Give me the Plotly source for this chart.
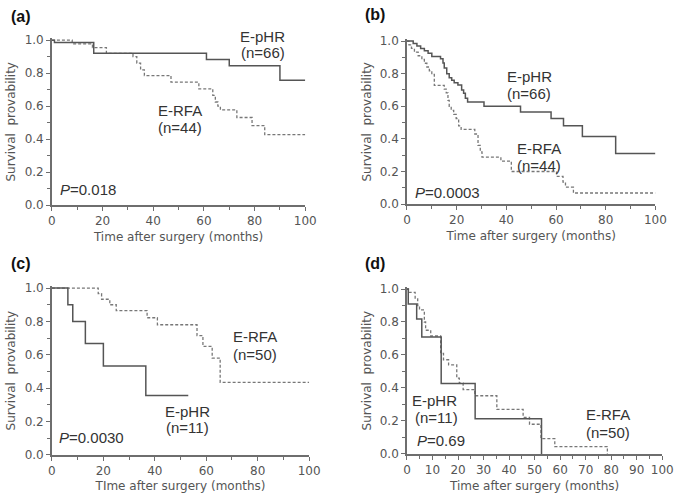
import plotly.graph_objects as go

# ---------------------------------------------------------------------------
# Kaplan-Meier step data (time in months, survival)
# ---------------------------------------------------------------------------

# (a)
a_phr_t = [0, 1, 16.5, 61, 70, 90, 100]
a_phr_s = [1.0, 0.985, 0.92, 0.882, 0.844, 0.757, 0.757]
a_rfa_t = [0, 8, 16, 21.5, 32, 33.5, 35, 36.5, 47, 58, 63.5, 64.5, 65.5, 66.5, 73, 79, 84, 100]
a_rfa_s = [1.0, 0.977, 0.955, 0.92, 0.9, 0.86, 0.82, 0.785, 0.745, 0.705, 0.665, 0.625, 0.6, 0.577,
           0.531, 0.482, 0.427, 0.427]

# (b)
b_phr_t = [0, 2.5, 4, 5.5, 7, 8.5, 10, 13.5, 14.5, 15, 16, 17, 18, 19, 20.5, 22, 22.8, 23.5, 24.4,
           31, 45.7, 58, 63, 70.6, 84, 100]
b_phr_s = [1.0, 0.985, 0.97, 0.955, 0.94, 0.925, 0.905, 0.892, 0.865, 0.835, 0.8, 0.775, 0.76, 0.745,
           0.73, 0.7, 0.68, 0.65, 0.627, 0.6, 0.565, 0.525, 0.48, 0.414, 0.31, 0.31]
b_rfa_t = [0, 0.8, 1.8, 3, 4.5, 6, 7, 8, 9, 10, 11, 15, 15.8, 16.5, 17, 17.8, 18.8, 19.8, 20.8, 21.8,
           27.3, 28.6, 29.5, 30.2, 37.8, 42, 60.2, 62.8, 63.8, 67, 100]
b_rfa_s = [1.0, 0.977, 0.955, 0.932, 0.91, 0.887, 0.864, 0.841, 0.818, 0.795, 0.728, 0.705, 0.682,
           0.636, 0.6, 0.575, 0.55, 0.525, 0.48, 0.458, 0.43, 0.36, 0.32, 0.288, 0.264, 0.2, 0.17,
           0.135, 0.104, 0.068, 0.068]

# (c)
c_phr_t = [0, 6.2, 8.1, 13, 20, 36.5, 53]
c_phr_s = [1.0, 0.9, 0.8, 0.667, 0.533, 0.356, 0.356]
c_rfa_t = [0, 18, 19.3, 22.5, 25, 37, 41, 56.4, 58.7, 62.3, 65.4, 100]
c_rfa_s = [1.0, 0.967, 0.933, 0.9, 0.865, 0.822, 0.78, 0.715, 0.65, 0.58, 0.435, 0.435]

# (d)
d_phr_t = [0, 0.5, 3.8, 5.8, 13.4, 26.7, 52.7]
d_phr_s = [1.0, 0.909, 0.818, 0.709, 0.427, 0.213, 0.0]
d_rfa_t = [0, 0.6, 3.2, 4.2, 4.9, 6.8, 7.3, 9.3, 13.2, 14.3, 16.3, 19.5, 20.5, 22, 26.6, 35.2,
           45.5, 48, 52.5, 57.9, 78.5]
d_rfa_s = [1.0, 0.98, 0.94, 0.9, 0.873, 0.8, 0.75, 0.715, 0.61, 0.571, 0.54, 0.46, 0.43, 0.39, 0.353,
           0.27, 0.222, 0.18, 0.093, 0.045, 0.0]

# ---------------------------------------------------------------------------
# Styling
# ---------------------------------------------------------------------------

W, H = 685, 500
AX_COL = "#6e6e6e"
TXT_COL = "#555555"
SOLID_COL = "#555555"
DASH_COL = "#777777"
TICK_FONT = dict(family="DejaVu Sans", size=12, color=TXT_COL)
TITLE_FONT = dict(family="DejaVu Sans", size=12, color=TXT_COL)
LABEL_FONT = dict(family="Liberation Sans, Arial", size=15, color="#333333")


def px_x(p):
    return p / W


def px_y(p):
    return 1 - p / H


def xaxis(domain, anchor, title, dtick, minor):
    return dict(
        domain=domain, anchor=anchor, range=[0, 100], showgrid=False, zeroline=False,
        showline=True, linecolor=AX_COL, linewidth=1.5,
        ticks="outside", ticklen=4, tickwidth=1, tickcolor=AX_COL,
        tick0=0, dtick=dtick, tickfont=TICK_FONT,
        minor=dict(dtick=minor, ticks="outside", ticklen=3, tickcolor=AX_COL, tickwidth=1),
        title=dict(text=title, font=TITLE_FONT, standoff=5),
        fixedrange=True,
    )


def yaxis(domain, anchor):
    return dict(
        domain=domain, anchor=anchor, range=[0, 1.01], showgrid=False, zeroline=False,
        showline=True, linecolor=AX_COL, linewidth=1.5,
        ticks="outside", ticklen=4, tickwidth=1, tickcolor=AX_COL,
        tick0=0, dtick=0.2, tickformat=".1f", tickfont=TICK_FONT,
        minor=dict(dtick=0.1, ticks="outside", ticklen=3, tickcolor=AX_COL, tickwidth=1),
        title=dict(text="Survival\u00a0 provability", font=TITLE_FONT, standoff=6),
        fixedrange=True,
    )


fig = go.Figure()

panels = [
    ("x", "y", a_phr_t, a_phr_s, a_rfa_t, a_rfa_s),
    ("x2", "y2", b_phr_t, b_phr_s, b_rfa_t, b_rfa_s),
    ("x3", "y3", c_phr_t, c_phr_s, c_rfa_t, c_rfa_s),
    ("x4", "y4", d_phr_t, d_phr_s, d_rfa_t, d_rfa_s),
]
for xa, ya, pt, ps, rt, rs in panels:
    fig.add_trace(go.Scatter(
        x=rt, y=rs, xaxis=xa, yaxis=ya, mode="lines", line_shape="hv",
        line=dict(color=DASH_COL, width=1.3, dash="3px,2px"), showlegend=False,
    ))
    fig.add_trace(go.Scatter(
        x=pt, y=ps, xaxis=xa, yaxis=ya, mode="lines", line_shape="hv",
        line=dict(color=SOLID_COL, width=1.5), showlegend=False,
    ))

fig.update_layout(
    width=W, height=H, margin=dict(l=0, r=0, t=0, b=0),
    paper_bgcolor="white", plot_bgcolor="white", hovermode=False,
    xaxis=xaxis([px_x(49), px_x(308)], "y", "Time after surgery (months)", 20, 10),
    yaxis=yaxis([px_y(205), px_y(34.3)], "x"),
    xaxis2=xaxis([px_x(412), px_x(666)], "y2", "Time after surgery (months)", 20, 10),
    yaxis2=yaxis([px_y(204), px_y(35.3)], "x2"),
    xaxis3=xaxis([px_x(49), px_x(312)], "y3", "TIme after surgery (months)", 20, 10),
    yaxis3=yaxis([px_y(461), px_y(288.3)], "x3"),
    xaxis4=xaxis([px_x(412), px_x(673)], "y4", "Time after surgery (months)", 10, 5),
    yaxis4=yaxis([px_y(460), px_y(289.3)], "x4"),
)

# text labels (paper coords from pixel positions)
labels = [
    ("(a)", 5, 12, "left", True), ("(b)", 367, 10, "left", True),
    ("(c)", 5, 265, "left", True), ("(d)", 367, 265, "left", True),
    ("E-pHR", 264, 32, "center", False), ("(n=66)", 265, 49, "center", False),
    ("E-RFA", 180, 108, "center", False), ("(n=44)", 180, 126, "center", False),
    ("<i>P</i>=0.018", 55, 189, "left", False),
    ("E-pHR", 537, 73, "center", False), ("(n=66)", 537, 91, "center", False),
    ("E-RFA", 547, 147, "center", False), ("(n=44)", 547, 164, "center", False),
    ("<i>P</i>=0.0003", 418, 192, "left", False),
    ("E-RFA", 257, 340, "center", False), ("(n=50)", 257, 358, "center", False),
    ("E-pHR", 188, 416, "center", False), ("(n=11)", 188, 433, "center", False),
    ("<i>P</i>=0.0030", 54, 443, "left", False),
    ("E-pHR", 440, 405, "center", False), ("(n=11)", 442, 423, "center", False),
    ("<i>P</i>=0.69", 420, 446, "left", False),
    ("E-RFA", 618, 420, "center", False), ("(n=50)", 618, 438, "center", False),
]
for text, x, y, align, bold in labels:
    font = dict(LABEL_FONT)
    if bold:
        font.update(size=16, color="#111111")
        text = f"<b>{text}</b>"
    fig.add_annotation(
        text=text, x=px_x(x), y=px_y(y), xref="paper", yref="paper",
        xanchor=align, yanchor="middle", showarrow=False, font=font,
    )

# drop the browser's default body margin so the figure sits at the page origin
fig.write_html(
    "out.html",
    config={"displayModeBar": False},
    post_script="document.body.style.margin='0';",
)
